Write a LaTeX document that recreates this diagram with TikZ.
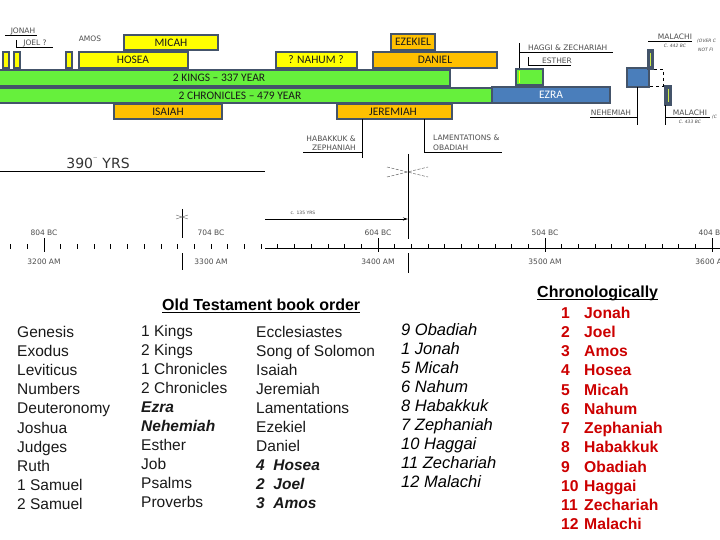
\documentclass[tikz,border=0pt]{standalone}
\usepackage{fontspec}
\setmainfont{Liberation Sans}
\newfontfamily\barfont{Carlito}
\newfontfamily\tagfont{DejaVu Sans}
\usetikzlibrary{arrows.meta,calc}

\definecolor{barframe}{RGB}{68,84,106}
\definecolor{baryellow}{RGB}{255,255,0}
\definecolor{bargreen}{RGB}{102,240,60}
\definecolor{barorange}{RGB}{255,192,0}
\definecolor{barblue}{RGB}{74,126,187}
\definecolor{slimfill}{RGB}{205,235,70}
\definecolor{chronred}{RGB}{204,0,0}

\tikzset{
  bar/.style={draw=barframe, line width=2.2pt},
  bartext/.style={font=\barfont\fontsize{11.5}{12}\selectfont, text=black!90, inner sep=0pt},
  tag/.style={font=\tagfont\fontsize{7.5}{9.5}\selectfont, text=black!70, inner sep=0pt},
  tinytag/.style={font=\tagfont\itshape\fontsize{4.5}{5.5}\selectfont, text=black!70, inner sep=0pt},
  tagline/.style={black, line width=0.8pt},
  booktext/.style={font=\fontsize{15.5}{18}\selectfont, anchor=base west, inner sep=0pt, text=black!90},
  prophet/.style={font=\itshape\fontsize{16.5}{18}\selectfont, anchor=base west, inner sep=0pt},
  chron/.style={font=\bfseries\fontsize{15.7}{18}\selectfont, anchor=base west, inner sep=0pt, text=chronred},
  heading/.style={font=\bfseries\fontsize{16}{18}\selectfont, anchor=base west, inner sep=0pt},
}

\begin{document}
\begin{tikzpicture}[x=1pt,y=1pt,yscale=-1,xscale=1]
\useasboundingbox (0,0) rectangle (720,540);

%Shape: Rectangle [2 kings]
\draw [bar, fill=bargreen] (-4,70) rectangle (450,86) ;
%Shape: Rectangle [2 chronicles]
\draw [bar, fill=bargreen] (-4,88) rectangle (492,103) ;
%Shape: Rectangle [ezra]
\draw [bar, fill=barblue] (492,87) rectangle (610,103) ;
%Shape: Rectangle [small bars]
\draw [bar, fill=baryellow] (3,52) rectangle (9,68) ;
\draw [bar, fill=baryellow] (14,52) rectangle (20,68) ;
\draw [bar, fill=baryellow] (66,52) rectangle (72,68) ;
%Shape: Rectangle [hosea, micah]
\draw [bar, fill=baryellow] (79,52) rectangle (188,68) ;
\draw [bar, fill=baryellow] (124,35) rectangle (218,50) ;
%Shape: Rectangle [nahum]
\draw [bar, fill=baryellow] (276,52) rectangle (357,68) ;
%Shape: Rectangle [ezekiel, daniel]
\draw [bar, fill=barorange] (373,52) rectangle (497,68) ;
\draw [bar, fill=barorange] (391,34) rectangle (435,50) ;
%Shape: Rectangle [isaiah, jeremiah]
\draw [bar, fill=barorange] (114,104) rectangle (222,119) ;
\draw [bar, fill=barorange] (337,104) rectangle (452,119) ;
%Shape: Rectangle [haggai]
\draw [bar, fill=bargreen] (516,69) rectangle (543,85) ;
\draw [baryellow, line width=1pt] (519.5,71) -- (519.5,83) ;
%Shape: Rectangle [nehemiah]
\draw [bar, fill=barblue] (627,68) rectangle (649,87) ;
%Shape: Rectangle [malachi]
\draw [bar, fill=barframe] (648,50) rectangle (653,69) ;
\draw [slimfill, line width=1pt] (650.5,53) -- (650.5,66) ;
\draw [bar, fill=barframe] (665,86) rectangle (671,105) ;
\draw [slimfill, line width=1pt] (668,89) -- (668,102) ;
%Straight Lines [malachi bracket]
\draw [black, dashed, line width=0.8pt] (654,69) -- (663,69) -- (663,86) -- (650,86) ;

% Text Node
\draw (171,42.5) node (micah) [bartext] {MICAH};
% Text Node
\draw (133,60) node (hosea) [bartext] {HOSEA};
% Text Node
\draw (219,78) node (kings) [bartext] {2 KINGS – 337 YEAR};
% Text Node
\draw (240,95.5) node (chronicles) [bartext] {2 CHRONICLES – 479 YEAR};
% Text Node
\draw (168,111.5) node (isaiah) [bartext] {ISAIAH};
% Text Node
\draw (316,60) node (nahum) [bartext] {? NAHUM ?};
% Text Node
\draw (413,42) node (ezekiel) [bartext] {EZEKIEL};
% Text Node
\draw (435,60) node (daniel) [bartext] {DANIEL};
% Text Node
\draw (393,111.5) node (jeremiah) [bartext] {JEREMIAH};
% Text Node
\draw (551,95) node (ezra) [bartext, text=white] {EZRA};

%Straight Lines [top left tags]
\draw [tagline] (5,35) -- (37,35) ;
\draw [tagline] (16,40) -- (16,47) -- (53,47) ;
\draw (23,31) node (jonahtag) [tag] {JONAH};
\draw (35,43) node (joeltag) [tag] {JOEL ?};
\draw (90,39) node (amostag) [tag] {AMOS};

%Straight Lines [haggai, esther]
\draw [tagline] (519,68) -- (519,43) ;
\draw [tagline] (519,52) -- (613,52) ;
\draw (528,48) node (haggaitag) [tag, anchor=west] {HAGGI \& ZECHARIAH};
\draw [tagline] (528,57) -- (528,65) -- (571,65) ;
\draw (542,61) node (esthertag) [tag, anchor=west] {ESTHER};

%Straight Lines [nehemiah, malachi]
\draw [tagline] (637,87) -- (637,125) ;
\draw [tagline] (590,117) -- (637,117) ;
\draw (611,113) node (nehemiahtag) [tag] {NEHEMIAH};
\draw [tagline] (665,105) -- (665,125) ;
\draw [tagline] (665,117) -- (710,117) ;
\draw (690,112.5) node (malachilow) [tag] {MALACHI};
\draw (690,122) node [tinytag] {C. 433 BC};
\draw (712,117) node [tinytag, anchor=west] {(C};
\draw [tagline] (648,41) -- (692,41) ;
\draw (675,37) node (malachitop) [tag] {MALACHI};
\draw (675,46) node [tinytag] {C. 442 BC};
\draw (697,41) node [tinytag, anchor=west] {(OVER C};
\draw (698,50) node [tinytag, anchor=west] {NOT FI};

%Straight Lines [habakkuk, lamentations]
\draw [tagline] (362,119) -- (362,158) ;
\draw [tagline] (303,152) -- (362,152) ;
\draw (356,143) node (habakkuktag) [tag, anchor=east, align=right] {HABAKKUK \&\\ZEPHANIAH};
\draw [tagline] (424,119) -- (424,152) -- (502,152) ;
\draw (433,143) node (lamenttag) [tag, anchor=west, align=left] {LAMENTATIONS \&\\OBADIAH};

%Straight Lines [exile mark]
\draw [black, line width=0.8pt] (408,154) -- (408,239) ;
\draw [black, line width=0.8pt] (408,253) -- (408,273) ;
\draw [black!60, dash pattern=on 3pt off 1.5pt, line width=0.5pt] (387,167) -- (428,177) ;
\draw [black!60, dash pattern=on 3pt off 1.5pt, line width=0.5pt] (387,177) -- (428,167) ;
\coordinate (exile) at (408,219) ;

%Straight Lines [390 years]
\draw [black, line width=0.8pt] (0,171) -- (265,171) ;
\draw (98,163) node (years) [tag, font=\tagfont\fontsize{14}{16}\selectfont, text=black!80] {390$^{\bar{~}}$ YRS};

%Straight Lines [135 years arrow]
\draw (265,219) coordinate (arrowstart) ;
\draw [black, line width=0.8pt, -{Stealth[length=5pt,width=3pt]}] (arrowstart) -- (exile) ;
\draw (303,213) node [tinytag, font=\tagfont\fontsize{4.5}{5}\selectfont] {c. 135 YRS};

%Straight Lines [mark at 704]
\draw [black, line width=0.8pt] (182,209) -- (182,238) ;
\draw [black, line width=0.8pt] (182,253) -- (182,270) ;
\draw [black!60, line width=0.4pt] (176,215) -- (188,219) ;
\draw [black!60, line width=0.4pt] (176,219) -- (188,215) ;

%Straight Lines [time axis]
\draw [black, line width=0.8pt] (265,248) -- (720,248) ;
\foreach \k in {-2,...,40}
  \draw [black, line width=0.8pt] (44+16.7*\k,244) -- (44+16.7*\k,249) ;
\foreach \k in {0,20,30,40}
  \draw [black, line width=0.8pt] (44+16.7*\k,238) -- (44+16.7*\k,252) ;
\foreach \bc/\am [count=\i from 0] in {804/3200,704/3300,604/3400,504/3500,404/3600}
  {
  \draw (44+167*\i,233) node (bc\i) [tag] {\bc\ BC};
  \draw (44+167*\i,262) node (am\i) [tag] {\am\ AM};
  }

% Text Node
\draw (162,310) node (ottitle) [heading] {Old Testament book order};
\draw [line width=1pt] ($(ottitle.base west)+(0,2.2)$) -- ($(ottitle.base east)+(0,2.2)$) ;

\foreach \bk [count=\i from 0] in {Genesis,Exodus,Leviticus,Numbers,Deuteronomy,Joshua,Judges,Ruth,1 Samuel,2 Samuel}
  \draw (17,337+19.2*\i) node (law\i) [booktext] {\bk};
\foreach \bk [count=\i from 0] in {1 Kings,2 Kings,1 Chronicles,2 Chronicles,{\bfseries\itshape Ezra},{\bfseries\itshape Nehemiah},Esther,Job,Psalms,Proverbs}
  \draw (141,336+19.1*\i) node (hist\i) [booktext] {\bk};
\foreach \bk [count=\i from 0] in {Ecclesiastes,Song of Solomon,Isaiah,Jeremiah,Lamentations,Ezekiel,Daniel,{\bfseries\itshape 4\ \ Hosea},{\bfseries\itshape 2\ \ Joel},{\bfseries\itshape 3\ \ Amos}}
  \draw (256,337+19.1*\i) node (poet\i) [booktext] {\bk};
\foreach \bk [count=\i from 0] in {9 Obadiah,1 Jonah,5 Micah,6 Nahum,8 Habakkuk,7 Zephaniah,10 Haggai,11 Zechariah,12 Malachi}
  \draw (401,335+19.1*\i) node (minor\i) [prophet] {\bk};

% Text Node
\draw (537,297) node (chrontitle) [heading] {Chronologically};
\draw [line width=1pt] ($(chrontitle.base west)+(0,2.2)$) -- ($(chrontitle.base east)+(0,2.2)$) ;
\foreach \bk [count=\i] in {Jonah,Joel,Amos,Hosea,Micah,Nahum,Zephaniah,Habakkuk,Obadiah,Haggai,Zechariah,Malachi}
  {
  \draw (561,318+19.27*\i-19.27) node (num\i) [chron] {\i};
  \draw (584,318+19.27*\i-19.27) node (order\i) [chron] {\bk};
  }

\end{tikzpicture}
\end{document}
